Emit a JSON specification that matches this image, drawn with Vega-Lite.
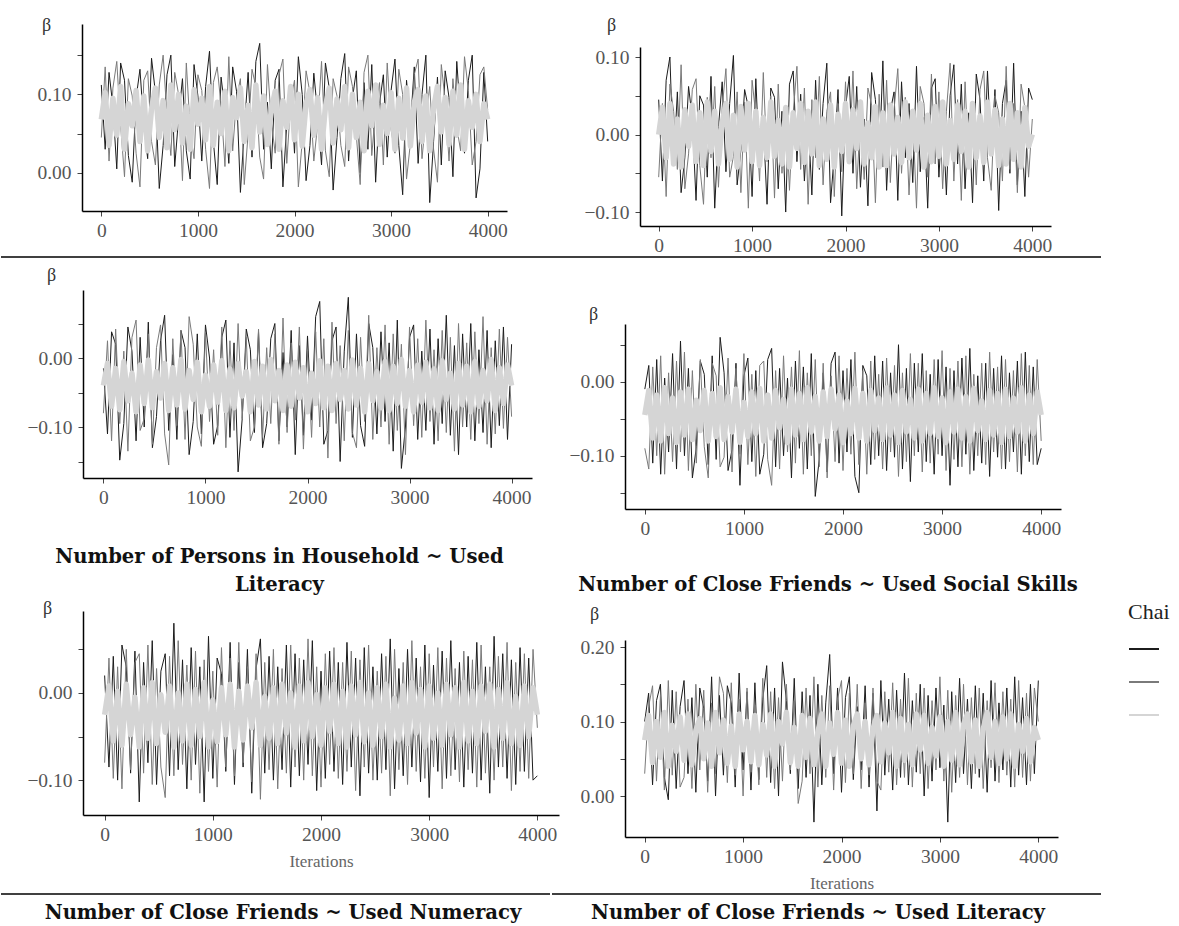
{
"$schema":"https://vega.github.io/schema/vega-lite/v6.json",
"background":"white",
"padding":{"left":0,"top":13,"right":0,"bottom":0},
"data":{"values":[
{"i":0,"a1":0.112,"a2":0.045,"a3":0.068,"b1":0.045,"b2":-0.055,"b3":0,"c1":-0.015,"c2":-0.08,"c3":-0.04,"d1":-0.01,"d2":-0.09,"d3":-0.045,"e1":0.02,"e2":-0.08,"e3":-0.025,"f1":0.1,"f2":0.03,"f3":0.075},
{"i":40,"a1":0.03,"a2":0.135,"a3":0.102,"b1":-0.06,"b2":0.04,"b3":0.035,"c1":-0.11,"c2":0.025,"c3":-0.008,"d1":0.022,"d2":-0.118,"d3":-0.012,"e1":-0.085,"e2":0.04,"e3":0.008,"f1":0.138,"f2":0.12,"f3":0.108},
{"i":80,"a1":0.128,"a2":0.015,"a3":0.035,"b1":0.07,"b2":-0.08,"b3":-0.03,"c1":0.038,"c2":-0.12,"c3":-0.07,"d1":-0.11,"d2":0.02,"d3":-0.076,"e1":0.042,"e2":-0.098,"e3":-0.055,"f1":0.015,"f2":0.148,"f3":0.045},
{"i":120,"a1":0.085,"a2":0.108,"a3":0.095,"b1":0.1,"b2":0.065,"b3":0.04,"c1":0.02,"c2":0.042,"c3":-0.015,"d1":0.03,"d2":-0.1,"d3":-0.018,"e1":-0.1,"e2":0.03,"e3":0.002,"f1":0.128,"f2":0.02,"f3":0.1},
{"i":160,"a1":0.005,"a2":0.142,"a3":0.048,"b1":-0.04,"b2":0.03,"b3":-0.038,"c1":-0.148,"c2":-0.095,"c3":-0.075,"d1":-0.125,"d2":0.035,"d3":-0.08,"e1":0.055,"e2":-0.11,"e3":-0.06,"f1":0.15,"f2":0.135,"f3":0.052},
{"i":200,"a1":0.14,"a2":0.06,"a3":0.11,"b1":0.055,"b2":-0.045,"b3":0.02,"c1":-0.095,"c2":0.01,"c3":-0.005,"d1":0.005,"d2":-0.125,"d3":-0.008,"e1":0.03,"e2":0.05,"e3":0.01,"f1":0.025,"f2":0.008,"f3":0.112},
{"i":240,"a1":0.118,"a2":-0.005,"a3":0.03,"b1":-0.075,"b2":0.09,"b3":-0.042,"c1":0.045,"c2":-0.135,"c3":-0.062,"d1":-0.095,"d2":0.012,"d3":-0.07,"e1":-0.092,"e2":-0.088,"e3":-0.048,"f1":-0.005,"f2":0.155,"f3":0.04},
{"i":280,"a1":0.022,"a2":0.12,"a3":0.088,"b1":-0.03,"b2":-0.07,"b3":0.032,"c1":0.01,"c2":0.03,"c3":-0.022,"d1":0.038,"d2":-0.108,"d3":-0.022,"e1":0.048,"e2":0.035,"e3":-0.005,"f1":0.142,"f2":0.028,"f3":0.095},
{"i":320,"a1":-0.012,"a2":0.098,"a3":0.06,"b1":0.062,"b2":-0.025,"b3":-0.015,"c1":-0.12,"c2":0.055,"c3":-0.078,"d1":-0.118,"d2":0.028,"d3":-0.082,"e1":-0.125,"e2":0.045,"e3":-0.062,"f1":0.01,"f2":0.14,"f3":0.06},
{"i":360,"a1":0.095,"a2":0.025,"a3":0.105,"b1":0.02,"b2":0.058,"b3":0.038,"c1":0.03,"c2":-0.105,"c3":-0.01,"d1":0.055,"d2":-0.095,"d3":-0.014,"e1":0.035,"e2":-0.092,"e3":0.006,"f1":0.12,"f2":0.012,"f3":0.106},
{"i":400,"a1":0.132,"a2":-0.018,"a3":0.04,"b1":-0.085,"b2":0.072,"b3":-0.035,"c1":-0.1,"c2":-0.088,"c3":-0.066,"d1":-0.1,"d2":0.04,"d3":-0.072,"e1":-0.08,"e2":0.055,"e3":-0.052,"f1":0.155,"f2":0.025,"f3":0.048},
{"i":440,"a1":0.06,"a2":0.118,"a3":0.098,"b1":0.05,"b2":-0.04,"b3":0.028,"c1":0.052,"c2":0.035,"c3":-0.003,"d1":0.018,"d2":-0.12,"d3":-0.01,"e1":0.06,"e2":-0.105,"e3":0.012,"f1":0.03,"f2":0.13,"f3":0.11},
{"i":480,"a1":0.018,"a2":0.13,"a3":0.028,"b1":0.038,"b2":-0.09,"b3":-0.04,"c1":-0.13,"c2":-0.125,"c3":-0.072,"d1":-0.13,"d2":0.015,"d3":-0.078,"e1":-0.105,"e2":0.028,"e3":-0.058,"f1":0.132,"f2":0.01,"f3":0.042},
{"i":520,"a1":0.146,"a2":0.04,"a3":0.082,"b1":-0.055,"b2":0.048,"b3":0.042,"c1":-0.085,"c2":0.015,"c3":-0.02,"d1":-0.088,"d2":-0.11,"d3":-0.025,"e1":0.025,"e2":-0.085,"e3":-0.002,"f1":0.005,"f2":0.15,"f3":0.088},
{"i":560,"a1":0.102,"a2":0.01,"a3":0.108,"b1":0.075,"b2":-0.03,"b3":-0.022,"c1":0.025,"c2":0.048,"c3":-0.058,"d1":0.028,"d2":0.03,"d3":-0.066,"e1":0.045,"e2":-0.12,"e3":-0.045,"f1":0.145,"f2":0.035,"f3":0.104},
{"i":600,"a1":-0.02,"a2":0.112,"a3":0.045,"b1":-0.095,"b2":0.062,"b3":0.03,"c1":0.062,"c2":-0.11,"c3":-0.008,"d1":0.01,"d2":-0.088,"d3":-0.012,"e1":-0.095,"e2":0.042,"e3":0.008,"f1":0.118,"f2":0.142,"f3":0.05},
{"i":640,"a1":0.035,"a2":0.15,"a3":0.092,"b1":0.01,"b2":-0.068,"b3":-0.038,"c1":-0.105,"c2":-0.155,"c3":-0.076,"d1":-0.112,"d2":-0.13,"d3":-0.08,"e1":0.08,"e2":-0.095,"e3":-0.062,"f1":0.02,"f2":0.005,"f3":0.098},
{"i":680,"a1":0.125,"a2":0.072,"a3":0.032,"b1":0.068,"b2":0.035,"b3":0.015,"c1":0.005,"c2":0.028,"c3":-0.014,"d1":0.035,"d2":0.025,"d3":-0.016,"e1":-0.088,"e2":0.06,"e3":0,"f1":0.16,"f2":0.125,"f3":0.04},
{"i":720,"a1":0.15,"a2":0.022,"a3":0.112,"b1":-0.048,"b2":0.085,"b3":0.04,"c1":-0.118,"c2":-0.098,"c3":-0.068,"d1":-0.105,"d2":0.008,"d3":-0.074,"e1":0.038,"e2":-0.082,"e3":-0.055,"f1":0,"f2":0.03,"f3":0.112},
{"i":760,"a1":0.008,"a2":0.128,"a3":0.055,"b1":0.04,"b2":-0.055,"b3":-0.032,"c1":0.04,"c2":0.04,"c3":-0.002,"d1":0.06,"d2":-0.115,"d3":-0.008,"e1":-0.11,"e2":0.032,"e3":0.01,"f1":0.135,"f2":0.16,"f3":0.058},
{"i":800,"a1":0.07,"a2":0.1,"a3":0.1,"b1":0.102,"b2":-0.028,"b3":0.025,"c1":0.015,"c2":-0.118,"c3":-0.074,"d1":0.012,"d2":-0.102,"d3":-0.078,"e1":0.052,"e2":-0.1,"e3":-0.06,"f1":0.028,"f2":0.138,"f3":0.102},
{"i":840,"a1":0.12,"a2":-0.01,"a3":0.038,"b1":-0.065,"b2":0.055,"b3":-0.042,"c1":-0.14,"c2":0.06,"c3":-0.018,"d1":-0.12,"d2":0.032,"d3":-0.02,"e1":-0.082,"e2":0.048,"e3":0.004,"f1":0.148,"f2":0.018,"f3":0.044},
{"i":880,"a1":0.028,"a2":0.14,"a3":0.085,"b1":-0.02,"b2":-0.075,"b3":0.036,"c1":-0.092,"c2":0.02,"c3":-0.06,"d1":-0.092,"d2":-0.122,"d3":-0.068,"e1":0.03,"e2":-0.115,"e3":-0.05,"f1":0.125,"f2":0.152,"f3":0.094},
{"i":920,"a1":-0.008,"a2":0.055,"a3":0.03,"b1":0.058,"b2":0.042,"b3":-0.02,"c1":0.035,"c2":-0.1,"c3":-0.006,"d1":0.025,"d2":0.018,"d3":-0.01,"e1":-0.125,"e2":0.038,"e3":0.012,"f1":0.012,"f2":0.028,"f3":0.04},
{"i":960,"a1":0.138,"a2":0.018,"a3":0.106,"b1":0.035,"b2":-0.095,"b3":0.04,"c1":-0.11,"c2":-0.128,"c3":-0.078,"d1":-0.14,"d2":-0.098,"d3":-0.082,"e1":0.065,"e2":-0.09,"e3":-0.062,"f1":0.165,"f2":0.13,"f3":0.11},
{"i":1000,"a1":0.098,"a2":0.125,"a3":0.062,"b1":-0.08,"b2":0.07,"b3":-0.035,"c1":0.048,"c2":0.038,"c3":-0.025,"d1":0.008,"d2":0.038,"d3":-0.028,"e1":-0.098,"e2":0.025,"e3":-0.008,"f1":0.035,"f2":0,"f3":0.062},
{"i":1040,"a1":0.015,"a2":0.105,"a3":0.095,"b1":0.072,"b2":0.025,"b3":0.03,"c1":0,"c2":-0.092,"c3":-0.07,"d1":0.032,"d2":-0.112,"d3":-0.074,"e1":0.04,"e2":-0.108,"e3":-0.056,"f1":0.14,"f2":0.145,"f3":0.1},
{"i":1080,"a1":0.11,"a2":0.03,"a3":0.042,"b1":-0.042,"b2":-0.06,"b3":-0.04,"c1":-0.125,"c2":0.012,"c3":-0.01,"d1":-0.108,"d2":0.01,"d3":-0.014,"e1":0.022,"e2":0.052,"e3":0.006,"f1":0.008,"f2":0.032,"f3":0.046},
{"i":1120,"a1":0.155,"a2":-0.02,"a3":0.11,"b1":0.015,"b2":0.08,"b3":0.022,"c1":-0.098,"c2":-0.112,"c3":-0.064,"d1":0.015,"d2":-0.128,"d3":-0.07,"e1":-0.09,"e2":-0.085,"e3":-0.048,"f1":0.152,"f2":0.122,"f3":0.108},
{"i":1160,"a1":0.04,"a2":0.115,"a3":0.035,"b1":-0.09,"b2":-0.035,"b3":-0.03,"c1":0.03,"c2":0.045,"c3":-0.004,"d1":-0.125,"d2":0.022,"d3":-0.009,"e1":0.058,"e2":0.04,"e3":0.01,"f1":0.022,"f2":0.015,"f3":0.042},
{"i":1200,"a1":-0.015,"a2":0.135,"a3":0.09,"b1":0.06,"b2":0.05,"b3":0.042,"c1":0.055,"c2":-0.13,"c3":-0.076,"d1":-0.098,"d2":0.028,"d3":-0.08,"e1":-0.105,"e2":-0.095,"e3":-0.062,"f1":0.13,"f2":0.158,"f3":0.096},
{"i":1240,"a1":0.122,"a2":0.085,"a3":0.05,"b1":0.048,"b2":-0.082,"b3":-0.028,"c1":-0.115,"c2":0.025,"c3":-0.016,"d1":0.03,"d2":-0.105,"d3":-0.018,"e1":0.035,"e2":0.058,"e3":0.002,"f1":0.175,"f2":0.025,"f3":0.055},
{"i":1280,"a1":0.08,"a2":0.008,"a3":0.104,"b1":-0.07,"b2":0.065,"b3":0.018,"c1":0.022,"c2":-0.105,"c3":-0.072,"d1":0.045,"d2":-0.14,"d3":-0.076,"e1":-0.085,"e2":-0.08,"e3":-0.054,"f1":0.018,"f2":0.14,"f3":0.11},
{"i":1320,"a1":0.012,"a2":0.148,"a3":0.028,"b1":0.03,"b2":-0.05,"b3":-0.038,"c1":-0.165,"c2":0.05,"c3":-0.008,"d1":-0.115,"d2":0.015,"d3":-0.012,"e1":0.05,"e2":0.03,"e3":0.008,"f1":0.145,"f2":0.01,"f3":0.04},
{"i":1360,"a1":0.135,"a2":0.028,"a3":0.096,"b1":-0.1,"b2":0.038,"b3":0.035,"c1":-0.088,"c2":-0.088,"c3":-0.055,"d1":0.018,"d2":-0.118,"d3":-0.062,"e1":-0.115,"e2":-0.102,"e3":-0.04,"f1":0,"f2":0.132,"f3":0.1},
{"i":1400,"a1":0.104,"a2":0.095,"a3":0.07,"b1":0.065,"b2":-0.072,"b3":-0.042,"c1":0.042,"c2":0.03,"c3":-0.02,"d1":-0.1,"d2":0.035,"d3":-0.024,"e1":0.028,"e2":0.045,"e3":0.012,"f1":0.18,"f2":0.02,"f3":0.07},
{"i":1440,"a1":-0.025,"a2":0.12,"a3":0.108,"b1":0.082,"b2":0.028,"b3":0.028,"c1":0.012,"c2":-0.12,"c3":-0.078,"d1":0.005,"d2":-0.095,"d3":-0.082,"e1":0.062,"e2":-0.122,"e3":-0.06,"f1":0.128,"f2":0.15,"f3":0.112},
{"i":1480,"a1":0.055,"a2":-0.015,"a3":0.04,"b1":-0.035,"b2":0.088,"b3":-0.018,"c1":-0.108,"c2":-0.1,"c3":-0.005,"d1":-0.13,"d2":0.02,"d3":-0.01,"e1":-0.092,"e2":0.035,"e3":-0.004,"f1":0.03,"f2":0.035,"f3":0.045},
{"i":1520,"a1":0.128,"a2":0.05,"a3":0.086,"b1":0.052,"b2":-0.045,"b3":0.04,"c1":0.038,"c2":0.042,"c3":-0.068,"d1":0.028,"d2":-0.11,"d3":-0.072,"e1":0.042,"e2":-0.088,"e3":-0.052,"f1":0.158,"f2":0.128,"f3":0.092},
{"i":1560,"a1":0.02,"a2":0.132,"a3":0.032,"b1":-0.06,"b2":0.06,"b3":-0.036,"c1":-0.13,"c2":-0.115,"c3":-0.012,"d1":-0.09,"d2":0.042,"d3":-0.016,"e1":-0.1,"e2":0.05,"e3":0.006,"f1":0.01,"f2":-0.01,"f3":0.04},
{"i":1600,"a1":0.142,"a2":0.11,"a3":0.112,"b1":0.025,"b2":-0.09,"b3":0.03,"c1":-0.095,"c2":0.015,"c3":-0.074,"d1":0.02,"d2":-0.125,"d3":-0.078,"e1":0.03,"e2":-0.11,"e3":-0.058,"f1":0.14,"f2":0.02,"f3":0.108},
{"i":1640,"a1":0.165,"a2":0.02,"a3":0.052,"b1":-0.078,"b2":0.045,"b3":-0.025,"c1":0.028,"c2":-0.095,"c3":-0.002,"d1":-0.118,"d2":0.012,"d3":-0.008,"e1":-0.088,"e2":0.028,"e3":0.01,"f1":0.025,"f2":0.145,"f3":0.052},
{"i":1680,"a1":0.03,"a2":-0.008,"a3":0.098,"b1":0.07,"b2":-0.03,"b3":0.042,"c1":0.05,"c2":0.035,"c3":-0.062,"d1":0.038,"d2":-0.1,"d3":-0.068,"e1":0.055,"e2":-0.092,"e3":-0.046,"f1":0.135,"f2":0.03,"f3":0.104},
{"i":1720,"a1":0.09,"a2":0.138,"a3":0.036,"b1":-0.045,"b2":0.075,"b3":-0.04,"c1":-0.12,"c2":-0.125,"c3":-0.018,"d1":-0.155,"d2":0.03,"d3":-0.02,"e1":-0.108,"e2":0.055,"e3":0,"f1":-0.035,"f2":0.16,"f3":0.042},
{"i":1760,"a1":0.005,"a2":0.065,"a3":0.08,"b1":0.04,"b2":-0.065,"b3":0.02,"c1":0.008,"c2":0.058,"c3":-0.076,"d1":-0.105,"d2":-0.115,"d3":-0.08,"e1":0.045,"e2":-0.085,"e3":-0.062,"f1":0.15,"f2":0.012,"f3":0.086},
{"i":1800,"a1":0.118,"a2":0.025,"a3":0.104,"b1":0.092,"b2":0.03,"b3":-0.032,"c1":-0.1,"c2":-0.108,"c3":-0.01,"d1":0.012,"d2":0.025,"d3":-0.014,"e1":-0.095,"e2":0.04,"e3":0.008,"f1":0.015,"f2":0.135,"f3":0.11},
{"i":1840,"a1":0.132,"a2":0.125,"a3":0.03,"b1":-0.088,"b2":0.055,"b3":0.038,"c1":0.04,"c2":0.022,"c3":-0.07,"d1":-0.122,"d2":-0.13,"d3":-0.074,"e1":0.038,"e2":-0.1,"e3":-0.055,"f1":0.125,"f2":0.025,"f3":0.04},
{"i":1880,"a1":-0.018,"a2":0.145,"a3":0.092,"b1":-0.025,"b2":-0.08,"b3":-0.042,"c1":-0.14,"c2":-0.09,"c3":-0.006,"d1":0.025,"d2":0.008,"d3":-0.01,"e1":-0.082,"e2":0.062,"e3":0.012,"f1":0.19,"f2":0.148,"f3":0.098},
{"i":1920,"a1":0.062,"a2":0.012,"a3":0.058,"b1":0.058,"b2":0.04,"b3":0.026,"c1":0.018,"c2":0.045,"c3":-0.058,"d1":0.04,"d2":-0.108,"d3":-0.064,"e1":0.06,"e2":-0.095,"e3":-0.05,"f1":0.03,"f2":0.008,"f3":0.056},
{"i":1960,"a1":0.112,"a2":0.09,"a3":0.11,"b1":-0.105,"b2":-0.048,"b3":-0.022,"c1":-0.112,"c2":-0.132,"c3":-0.014,"d1":-0.11,"d2":0.035,"d3":-0.018,"e1":-0.112,"e2":0.03,"e3":-0.002,"f1":0.145,"f2":0.13,"f3":0.112},
{"i":2000,"a1":0.025,"a2":0.118,"a3":0.042,"b1":0.035,"b2":0.068,"b3":0.04,"c1":0.032,"c2":0.01,"c3":-0.078,"d1":0.015,"d2":-0.12,"d3":-0.082,"e1":0.025,"e2":-0.108,"e3":-0.06,"f1":0.005,"f2":0.155,"f3":0.044},
{"i":2040,"a1":0.148,"a2":-0.018,"a3":0.1,"b1":0.075,"b2":-0.035,"b3":-0.035,"c1":-0.09,"c2":-0.115,"c3":-0.022,"d1":-0.095,"d2":0.018,"d3":-0.026,"e1":-0.098,"e2":0.045,"e3":0.006,"f1":0.132,"f2":0.018,"f3":0.102},
{"i":2080,"a1":0.1,"a2":0.04,"a3":0.034,"b1":-0.05,"b2":0.082,"b3":0.032,"c1":0.06,"c2":0.038,"c3":-0.066,"d1":0.03,"d2":-0.098,"d3":-0.07,"e1":0.048,"e2":-0.082,"e3":-0.044,"f1":0.16,"f2":0.138,"f3":0.04},
{"i":2120,"a1":-0.01,"a2":0.13,"a3":0.088,"b1":0.062,"b2":-0.07,"b3":-0.018,"c1":0.082,"c2":-0.1,"c3":-0.004,"d1":-0.128,"d2":0.04,"d3":-0.009,"e1":-0.09,"e2":0.052,"e3":0.01,"f1":0.022,"f2":0.03,"f3":0.094},
{"i":2160,"a1":0.035,"a2":0.102,"a3":0.106,"b1":-0.068,"b2":0.025,"b3":0.042,"c1":-0.125,"c2":0.028,"c3":-0.072,"d1":-0.15,"d2":-0.112,"d3":-0.076,"e1":0.035,"e2":-0.098,"e3":-0.058,"f1":0.12,"f2":0.15,"f3":0.11},
{"i":2200,"a1":0.127,"a2":0.015,"a3":0.048,"b1":0.02,"b2":-0.058,"b3":-0.038,"c1":-0.105,"c2":-0.145,"c3":-0.012,"d1":0.022,"d2":0.015,"d3":-0.016,"e1":-0.105,"e2":0.035,"e3":0.002,"f1":0.035,"f2":0.01,"f3":0.05},
{"i":2240,"a1":0.075,"a2":0.062,"a3":0.096,"b1":-0.092,"b2":0.06,"b3":0.015,"c1":0.025,"c2":0.052,"c3":-0.076,"d1":0.008,"d2":-0.125,"d3":-0.08,"e1":0.058,"e2":-0.09,"e3":-0.062,"f1":0.148,"f2":0.125,"f3":0.1},
{"i":2280,"a1":0.01,"a2":0.142,"a3":0.03,"b1":0.08,"b2":0.038,"b3":-0.03,"c1":0.045,"c2":-0.095,"c3":-0.008,"d1":-0.112,"d2":0.028,"d3":-0.012,"e1":-0.085,"e2":0.048,"e3":0.008,"f1":0.012,"f2":0.028,"f3":0.042},
{"i":2320,"a1":0.14,"a2":0.028,"a3":0.084,"b1":0.045,"b2":-0.088,"b3":0.036,"c1":-0.15,"c2":0.018,"c3":-0.06,"d1":0.035,"d2":-0.105,"d3":-0.066,"e1":0.04,"e2":-0.112,"e3":-0.048,"f1":0.138,"f2":0.145,"f3":0.09},
{"i":2360,"a1":0.108,"a2":-0.005,"a3":0.108,"b1":-0.04,"b2":0.052,"b3":-0.042,"c1":0.01,"c2":-0.12,"c3":-0.018,"d1":-0.1,"d2":0.01,"d3":-0.022,"e1":-0.118,"e2":0.038,"e3":0.012,"f1":-0.02,"f2":0.02,"f3":0.108},
{"i":2400,"a1":-0.022,"a2":0.12,"a3":0.038,"b1":0.095,"b2":-0.042,"b3":0.028,"c1":0.088,"c2":0.04,"c3":-0.074,"d1":0.028,"d2":-0.118,"d3":-0.078,"e1":0.052,"e2":-0.085,"e3":-0.056,"f1":0.155,"f2":0.008,"f3":0.046},
{"i":2440,"a1":0.045,"a2":0.098,"a3":0.094,"b1":-0.072,"b2":0.07,"b3":-0.04,"c1":-0.115,"c2":-0.108,"c3":-0.003,"d1":-0.12,"d2":0.032,"d3":-0.008,"e1":-0.092,"e2":0.055,"e3":0,"f1":0.028,"f2":0.14,"f3":0.098},
{"i":2480,"a1":0.12,"a2":0.035,"a3":0.055,"b1":0.03,"b2":-0.062,"b3":0.038,"c1":0.035,"c2":-0.13,"c3":-0.068,"d1":0.012,"d2":-0.095,"d3":-0.072,"e1":0.03,"e2":-0.1,"e3":-0.06,"f1":0.13,"f2":0.032,"f3":0.058},
{"i":2520,"a1":0.152,"a2":0.008,"a3":0.11,"b1":0.055,"b2":0.032,"b3":-0.025,"c1":-0.098,"c2":0.03,"c3":-0.015,"d1":-0.102,"d2":0.022,"d3":-0.018,"e1":-0.1,"e2":0.025,"e3":0.006,"f1":0.008,"f2":0.152,"f3":0.112},
{"i":2560,"a1":0.015,"a2":0.135,"a3":0.032,"b1":-0.085,"b2":0.085,"b3":0.022,"c1":-0.128,"c2":-0.092,"c3":-0.078,"d1":0.05,"d2":-0.128,"d3":-0.082,"e1":0.045,"e2":-0.092,"e3":-0.05,"f1":0.142,"f2":0.015,"f3":0.04},
{"i":2600,"a1":0.095,"a2":0.11,"a3":0.1,"b1":0.068,"b2":-0.05,"b3":-0.036,"c1":0.05,"c2":0.062,"c3":-0.008,"d1":-0.118,"d2":0.012,"d3":-0.012,"e1":-0.088,"e2":0.042,"e3":0.01,"f1":0.025,"f2":0.13,"f3":0.104},
{"i":2640,"a1":0.13,"a2":0.048,"a3":0.045,"b1":-0.03,"b2":0.048,"b3":0.042,"c1":0.015,"c2":-0.118,"c3":-0.062,"d1":0.018,"d2":-0.108,"d3":-0.068,"e1":0.062,"e2":-0.118,"e3":-0.062,"f1":0.165,"f2":0.025,"f3":0.048},
{"i":2680,"a1":0,"a2":-0.015,"a3":0.09,"b1":0.04,"b2":-0.078,"b3":-0.03,"c1":-0.11,"c2":0.015,"c3":-0.02,"d1":-0.135,"d2":0.038,"d3":-0.024,"e1":-0.11,"e2":0.05,"e3":-0.006,"f1":0.015,"f2":0.158,"f3":0.096},
{"i":2720,"a1":0.115,"a2":0.128,"a3":0.028,"b1":-0.062,"b2":0.028,"b3":0.03,"c1":0.038,"c2":-0.1,"c3":-0.072,"d1":0.025,"d2":-0.1,"d3":-0.076,"e1":0.028,"e2":-0.088,"e3":-0.054,"f1":0.128,"f2":0.012,"f3":0.042},
{"i":2760,"a1":0.03,"a2":0.15,"a3":0.104,"b1":0.088,"b2":-0.095,"b3":-0.02,"c1":-0.092,"c2":0.048,"c3":-0.005,"d1":-0.095,"d2":0.025,"d3":-0.01,"e1":-0.095,"e2":0.035,"e3":0.008,"f1":0.032,"f2":0.138,"f3":0.11},
{"i":2800,"a1":0.138,"a2":0.022,"a3":0.06,"b1":-0.048,"b2":0.062,"b3":0.04,"c1":0.022,"c2":-0.125,"c3":-0.076,"d1":0.038,"d2":-0.122,"d3":-0.08,"e1":0.05,"e2":-0.105,"e3":-0.058,"f1":0.15,"f2":0.03,"f3":0.062},
{"i":2840,"a1":-0.012,"a2":0.082,"a3":0.112,"b1":0.022,"b2":0.04,"b3":-0.042,"c1":-0.135,"c2":0.035,"c3":-0.012,"d1":-0.108,"d2":0.015,"d3":-0.016,"e1":-0.085,"e2":0.06,"e3":0.012,"f1":0,"f2":0.145,"f3":0.108},
{"i":2880,"a1":0.088,"a2":0.115,"a3":0.036,"b1":-0.095,"b2":-0.055,"b3":0.025,"c1":0.055,"c2":-0.105,"c3":-0.066,"d1":0.01,"d2":-0.11,"d3":-0.07,"e1":0.04,"e2":-0.09,"e3":-0.046,"f1":0.135,"f2":0.01,"f3":0.044},
{"i":2920,"a1":0.125,"a2":0.01,"a3":0.086,"b1":0.06,"b2":0.078,"b3":-0.035,"c1":-0.16,"c2":0.02,"c3":-0.002,"d1":-0.125,"d2":0.03,"d3":-0.008,"e1":-0.102,"e2":0.03,"e3":0.004,"f1":0.02,"f2":0.128,"f3":0.092},
{"i":2960,"a1":0.02,"a2":0.14,"a3":0.05,"b1":0.072,"b2":-0.038,"b3":0.036,"c1":-0.1,"c2":-0.14,"c3":-0.07,"d1":0.03,"d2":-0.098,"d3":-0.074,"e1":0.055,"e2":-0.098,"e3":-0.062,"f1":0.145,"f2":0.035,"f3":0.054},
{"i":3000,"a1":0.105,"a2":0.055,"a3":0.102,"b1":-0.055,"b2":0.055,"b3":-0.028,"c1":0.03,"c2":0.045,"c3":-0.018,"d1":-0.1,"d2":0.042,"d3":-0.022,"e1":-0.12,"e2":0.045,"e3":0.008,"f1":0.038,"f2":0.16,"f3":0.106},
{"i":3040,"a1":0.145,"a2":0.025,"a3":0.03,"b1":0.035,"b2":-0.07,"b3":0.042,"c1":0.048,"c2":-0.098,"c3":-0.078,"d1":0.02,"d2":-0.12,"d3":-0.082,"e1":0.032,"e2":-0.085,"e3":-0.052,"f1":0.122,"f2":0.02,"f3":0.04},
{"i":3080,"a1":0.035,"a2":0.132,"a3":0.095,"b1":-0.078,"b2":0.03,"b3":-0.038,"c1":-0.118,"c2":0.028,"c3":-0.01,"d1":-0.14,"d2":0.018,"d3":-0.014,"e1":-0.09,"e2":0.052,"e3":0,"f1":-0.035,"f2":0.142,"f3":0.1},
{"i":3120,"a1":-0.028,"a2":0.1,"a3":0.044,"b1":0.05,"b2":0.092,"b3":0.018,"c1":0.01,"c2":-0.115,"c3":-0.064,"d1":0.015,"d2":-0.105,"d3":-0.068,"e1":0.048,"e2":-0.11,"e3":-0.06,"f1":0.14,"f2":0.005,"f3":0.048},
{"i":3160,"a1":0.118,"a2":-0.008,"a3":0.108,"b1":0.09,"b2":-0.06,"b3":-0.032,"c1":-0.105,"c2":0.055,"c3":-0.006,"d1":-0.115,"d2":0.028,"d3":-0.01,"e1":-0.098,"e2":0.04,"e3":0.01,"f1":0.018,"f2":0.135,"f3":0.112},
{"i":3200,"a1":0.06,"a2":0.038,"a3":0.034,"b1":-0.038,"b2":0.045,"b3":0.038,"c1":0.042,"c2":-0.092,"c3":-0.072,"d1":0.032,"d2":-0.115,"d3":-0.076,"e1":0.06,"e2":-0.095,"e3":-0.048,"f1":0.158,"f2":0.025,"f3":0.042},
{"i":3240,"a1":0.135,"a2":0.125,"a3":0.09,"b1":0.065,"b2":-0.085,"b3":-0.022,"c1":-0.125,"c2":0.012,"c3":-0.016,"d1":-0.098,"d2":0.035,"d3":-0.02,"e1":-0.088,"e2":0.028,"e3":0.006,"f1":0.03,"f2":0.15,"f3":0.096},
{"i":3280,"a1":0.012,"a2":0.145,"a3":0.106,"b1":-0.07,"b2":0.068,"b3":0.03,"c1":0.028,"c2":-0.12,"c3":-0.076,"d1":0.045,"d2":-0.125,"d3":-0.08,"e1":0.035,"e2":-0.102,"e3":-0.062,"f1":0.13,"f2":0.015,"f3":0.11},
{"i":3320,"a1":0.1,"a2":0.018,"a3":0.04,"b1":0.028,"b2":-0.042,"b3":-0.042,"c1":-0.095,"c2":0.04,"c3":-0.004,"d1":-0.12,"d2":0.01,"d3":-0.009,"e1":-0.108,"e2":0.048,"e3":0.012,"f1":0.01,"f2":0.132,"f3":0.046},
{"i":3360,"a1":0.15,"a2":0.07,"a3":0.098,"b1":-0.088,"b2":0.035,"b3":0.04,"c1":0.062,"c2":-0.108,"c3":-0.06,"d1":0.008,"d2":-0.1,"d3":-0.066,"e1":0.042,"e2":-0.088,"e3":-0.055,"f1":0.148,"f2":0.03,"f3":0.102},
{"i":3400,"a1":-0.038,"a2":0.11,"a3":0.028,"b1":0.078,"b2":-0.065,"b3":-0.03,"c1":-0.112,"c2":0.03,"c3":-0.022,"d1":-0.11,"d2":0.025,"d3":-0.026,"e1":-0.092,"e2":0.038,"e3":0.002,"f1":0.025,"f2":0.145,"f3":0.04},
{"i":3440,"a1":0.04,"a2":0.03,"a3":0.082,"b1":0.045,"b2":0.058,"b3":0.024,"c1":0.018,"c2":-0.135,"c3":-0.074,"d1":0.025,"d2":-0.112,"d3":-0.078,"e1":0.058,"e2":-0.108,"e3":-0.058,"f1":0.138,"f2":0.01,"f3":0.09},
{"i":3480,"a1":0.122,"a2":-0.012,"a3":0.11,"b1":-0.06,"b2":0.082,"b3":-0.036,"c1":-0.14,"c2":0.05,"c3":-0.008,"d1":-0.128,"d2":0.04,"d3":-0.012,"e1":-0.1,"e2":0.055,"e3":0.008,"f1":0.005,"f2":0.128,"f3":0.112},
{"i":3520,"a1":0.01,"a2":0.138,"a3":0.052,"b1":0.082,"b2":-0.03,"b3":0.042,"c1":0.035,"c2":-0.1,"c3":-0.068,"d1":0.018,"d2":-0.095,"d3":-0.072,"e1":0.03,"e2":-0.092,"e3":-0.044,"f1":0.155,"f2":0.038,"f3":0.052},
{"i":3560,"a1":0.13,"a2":0.092,"a3":0.096,"b1":-0.025,"b2":-0.072,"b3":-0.025,"c1":-0.1,"c2":0.022,"c3":-0.012,"d1":-0.102,"d2":0.02,"d3":-0.016,"e1":-0.115,"e2":0.03,"e3":0.01,"f1":0.02,"f2":0.152,"f3":0.1},
{"i":3600,"a1":0.096,"a2":0.015,"a3":0.036,"b1":0.058,"b2":0.05,"b3":0.032,"c1":0.05,"c2":-0.118,"c3":-0.078,"d1":0.035,"d2":-0.118,"d3":-0.082,"e1":0.065,"e2":-0.1,"e3":-0.062,"f1":0.125,"f2":0.018,"f3":0.044},
{"i":3640,"a1":-0.005,"a2":0.12,"a3":0.104,"b1":-0.098,"b2":0.028,"b3":-0.04,"c1":-0.12,"c2":0.038,"c3":-0.005,"d1":-0.118,"d2":0.03,"d3":-0.01,"e1":-0.085,"e2":0.042,"e3":0.004,"f1":0.035,"f2":0.14,"f3":0.106},
{"i":3680,"a1":0.142,"a2":0.058,"a3":0.048,"b1":0.04,"b2":-0.06,"b3":0.02,"c1":0.012,"c2":-0.095,"c3":-0.07,"d1":0.012,"d2":-0.108,"d3":-0.074,"e1":0.045,"e2":-0.085,"e3":-0.052,"f1":0.145,"f2":0.028,"f3":0.05},
{"i":3720,"a1":0.07,"a2":0.028,"a3":0.112,"b1":0.07,"b2":0.088,"b3":-0.038,"c1":-0.108,"c2":0.06,"c3":-0.018,"d1":-0.095,"d2":0.015,"d3":-0.022,"e1":-0.098,"e2":0.058,"e3":0.012,"f1":0.012,"f2":0.13,"f3":0.11},
{"i":3760,"a1":0.025,"a2":0.148,"a3":0.03,"b1":-0.05,"b2":-0.045,"b3":0.04,"c1":0.04,"c2":-0.125,"c3":-0.062,"d1":0.028,"d2":-0.122,"d3":-0.068,"e1":0.038,"e2":-0.112,"e3":-0.058,"f1":0.16,"f2":0.012,"f3":0.04},
{"i":3800,"a1":0.118,"a2":0.105,"a3":0.092,"b1":0.092,"b2":0.04,"b3":-0.032,"c1":-0.13,"c2":0.015,"c3":-0.002,"d1":-0.125,"d2":0.038,"d3":-0.008,"e1":-0.105,"e2":0.035,"e3":-0.004,"f1":0.028,"f2":0.155,"f3":0.096},
{"i":3840,"a1":0.15,"a2":0.01,"a3":0.058,"b1":-0.065,"b2":-0.075,"b3":0.028,"c1":0.025,"c2":-0.11,"c3":-0.076,"d1":0.04,"d2":-0.1,"d3":-0.08,"e1":0.052,"e2":-0.09,"e3":-0.06,"f1":0.132,"f2":0.025,"f3":0.06},
{"i":3880,"a1":-0.032,"a2":0.04,"a3":0.1,"b1":0.03,"b2":0.065,"b3":-0.042,"c1":-0.098,"c2":0.042,"c3":-0.014,"d1":-0.108,"d2":0.022,"d3":-0.018,"e1":-0.09,"e2":0.045,"e3":0.008,"f1":0.015,"f2":0.138,"f3":0.104},
{"i":3920,"a1":0.005,"a2":0.125,"a3":0.04,"b1":-0.08,"b2":0.035,"b3":0.035,"c1":0.045,"c2":-0.102,"c3":-0.066,"d1":0.02,"d2":-0.112,"d3":-0.07,"e1":0.04,"e2":-0.098,"e3":-0.05,"f1":0.15,"f2":0.02,"f3":0.046},
{"i":3960,"a1":0.128,"a2":0.135,"a3":0.088,"b1":0.06,"b2":-0.055,"b3":-0.015,"c1":-0.118,"c2":0.03,"c3":-0.01,"d1":-0.112,"d2":0.03,"d3":-0.014,"e1":-0.1,"e2":0.05,"e3":0.006,"f1":0.03,"f2":0.145,"f3":0.092},
{"i":4000,"a1":0.04,"a2":0.08,"a3":0.068,"b1":0.045,"b2":0.02,"b3":0,"c1":0.02,"c2":-0.085,"c3":-0.04,"d1":-0.09,"d2":-0.08,"d3":-0.045,"e1":-0.095,"e2":-0.04,"e3":-0.025,"f1":0.155,"f2":0.1,"f3":0.075}
]},
"spacing":1,
"vconcat":[
{"hconcat":[
 {"width":34,"height":1,"data":{"values":[]},"mark":"point","encoding":{},"view":{"stroke":"transparent"}},
 {"hconcat":[
  {"vconcat":[
   {"width":1,"height":1,"data":{"values":[]},"mark":"point","encoding":{},"view":{"stroke":"transparent"}},
   {"width":425,"height":187,
    "encoding":{"x":{"field":"i","type":"quantitative","scale":{"domain":[-200,4200],"nice":false,"zero":false},"axis":{"values":[0,1000,2000,3000,4000],"format":"d","title":null}}},
    "layer":[
     {"mark":{"type":"line","strokeWidth":1,"strokeJoin":"round"},"encoding":{"y":{"field":"a1","type":"quantitative","scale":{"domain":[-0.0487,0.1897],"nice":false,"zero":false},"axis":{"values":[0,0.05,0.1,0.15],"labelExpr":"abs(datum.value*10-round(datum.value*10))<0.001?format(datum.value,'.2f'):''","title":"β","titleX":-36,"titleY":1}},"color":{"datum":"1","title":"Chai","legend":{"labelExpr":"''"}}}},
     {"mark":{"type":"line","strokeWidth":1,"strokeJoin":"round"},"encoding":{"y":{"field":"a2","type":"quantitative","scale":{"domain":[-0.0487,0.1897],"nice":false,"zero":false},"axis":{"values":[0,0.05,0.1,0.15],"labelExpr":"abs(datum.value*10-round(datum.value*10))<0.001?format(datum.value,'.2f'):''","title":"β","titleX":-36,"titleY":1}},"color":{"datum":"2","title":"Chai"}}},
     {"mark":{"type":"line","strokeWidth":5.5,"strokeJoin":"round"},"encoding":{"y":{"field":"a3","type":"quantitative","scale":{"domain":[-0.0487,0.1897],"nice":false,"zero":false},"axis":{"values":[0,0.05,0.1,0.15],"labelExpr":"abs(datum.value*10-round(datum.value*10))<0.001?format(datum.value,'.2f'):''","title":"β","titleX":-36,"titleY":1}},"color":{"datum":"3","title":"Chai"}}}
    ]}
  ],"spacing":0},
  {"vconcat":[
   {"width":1,"height":1,"data":{"values":[]},"mark":"point","encoding":{},"view":{"stroke":"transparent"}},
   {"width":411,"height":179,
    "encoding":{"x":{"field":"i","type":"quantitative","scale":{"domain":[-200,4200],"nice":false,"zero":false},"axis":{"values":[0,1000,2000,3000,4000],"format":"d","title":null}}},
    "layer":[
     {"mark":{"type":"line","strokeWidth":1,"strokeJoin":"round"},"encoding":{"y":{"field":"b1","type":"quantitative","scale":{"domain":[-0.118,0.1129],"nice":false,"zero":false},"axis":{"values":[-0.1,-0.05,0,0.05,0.1],"labelExpr":"abs(datum.value*10-round(datum.value*10))<0.001?format(datum.value,'.2f'):''","title":"β","titleX":-29,"titleY":-22}},"color":{"datum":"1","title":"Chai"}}},
     {"mark":{"type":"line","strokeWidth":1,"strokeJoin":"round"},"encoding":{"y":{"field":"b2","type":"quantitative","scale":{"domain":[-0.118,0.1129],"nice":false,"zero":false},"axis":{"values":[-0.1,-0.05,0,0.05,0.1],"labelExpr":"abs(datum.value*10-round(datum.value*10))<0.001?format(datum.value,'.2f'):''","title":"β","titleX":-29,"titleY":-22}},"color":{"datum":"2","title":"Chai"}}},
     {"mark":{"type":"line","strokeWidth":5.5,"strokeJoin":"round"},"encoding":{"y":{"field":"b3","type":"quantitative","scale":{"domain":[-0.118,0.1129],"nice":false,"zero":false},"axis":{"values":[-0.1,-0.05,0,0.05,0.1],"labelExpr":"abs(datum.value*10-round(datum.value*10))<0.001?format(datum.value,'.2f'):''","title":"β","titleX":-29,"titleY":-22}},"color":{"datum":"3","title":"Chai"}}}
    ]}
  ],"spacing":0}
 ],"spacing":75}
],"spacing":0},
{"width":1100,"height":1,"data":{"values":[{"y":0}]},"mark":{"type":"rule","strokeWidth":1.5,"color":"#000"},"encoding":{"y":{"field":"y","type":"quantitative","axis":null,"scale":{"domain":[0,1]}}}},
{"hconcat":[
 {"width":24,"height":1,"data":{"values":[]},"mark":"point","encoding":{},"view":{"stroke":"transparent"}},
 {"hconcat":[
  {"vconcat":[
   {"width":1,"height":1,"data":{"values":[]},"mark":"point","encoding":{},"view":{"stroke":"transparent"}},
   {"width":449,"height":188,
    "title":{"text":["Number of Persons in Household ~ Used","Literacy"],"offset":41},
    "encoding":{"x":{"field":"i","type":"quantitative","scale":{"domain":[-200,4200],"nice":false,"zero":false},"axis":{"values":[0,1000,2000,3000,4000],"format":"d","title":null}}},
    "layer":[
     {"mark":{"type":"line","strokeWidth":1,"strokeJoin":"round"},"encoding":{"y":{"field":"c1","type":"quantitative","scale":{"domain":[-0.1739,0.0986],"nice":false,"zero":false},"axis":{"values":[-0.15,-0.1,-0.05,0,0.05],"labelExpr":"abs(datum.value*10-round(datum.value*10))<0.001?format(datum.value,'.2f'):''","title":"β","titleX":-32,"titleY":-15}},"color":{"datum":"1","title":"Chai"}}},
     {"mark":{"type":"line","strokeWidth":1,"strokeJoin":"round"},"encoding":{"y":{"field":"c2","type":"quantitative","scale":{"domain":[-0.1739,0.0986],"nice":false,"zero":false},"axis":{"values":[-0.15,-0.1,-0.05,0,0.05],"labelExpr":"abs(datum.value*10-round(datum.value*10))<0.001?format(datum.value,'.2f'):''","title":"β","titleX":-32,"titleY":-15}},"color":{"datum":"2","title":"Chai"}}},
     {"mark":{"type":"line","strokeWidth":5.5,"strokeJoin":"round"},"encoding":{"y":{"field":"c3","type":"quantitative","scale":{"domain":[-0.1739,0.0986],"nice":false,"zero":false},"axis":{"values":[-0.15,-0.1,-0.05,0,0.05],"labelExpr":"abs(datum.value*10-round(datum.value*10))<0.001?format(datum.value,'.2f'):''","title":"β","titleX":-32,"titleY":-15}},"color":{"datum":"3","title":"Chai"}}}
    ]},
   {"width":476,"height":204,
    "encoding":{"x":{"field":"i","type":"quantitative","scale":{"domain":[-200,4200],"nice":false,"zero":false},"axis":{"values":[0,1000,2000,3000,4000],"format":"d","title":"Iterations"}}},
    "layer":[
     {"mark":{"type":"line","strokeWidth":1,"strokeJoin":"round"},"encoding":{"y":{"field":"e1","type":"quantitative","scale":{"domain":[-0.14,0.094],"nice":false,"zero":false},"axis":{"values":[-0.1,-0.05,0,0.05],"labelExpr":"abs(datum.value*10-round(datum.value*10))<0.001?format(datum.value,'.2f'):''","title":"β","titleX":-36,"titleY":-3}},"color":{"datum":"1","title":"Chai"}}},
     {"mark":{"type":"line","strokeWidth":1,"strokeJoin":"round"},"encoding":{"y":{"field":"e2","type":"quantitative","scale":{"domain":[-0.14,0.094],"nice":false,"zero":false},"axis":{"values":[-0.1,-0.05,0,0.05],"labelExpr":"abs(datum.value*10-round(datum.value*10))<0.001?format(datum.value,'.2f'):''","title":"β","titleX":-36,"titleY":-3}},"color":{"datum":"2","title":"Chai"}}},
     {"mark":{"type":"line","strokeWidth":5.5,"strokeJoin":"round"},"encoding":{"y":{"field":"e3","type":"quantitative","scale":{"domain":[-0.14,0.094],"nice":false,"zero":false},"axis":{"values":[-0.1,-0.05,0,0.05],"labelExpr":"abs(datum.value*10-round(datum.value*10))<0.001?format(datum.value,'.2f'):''","title":"β","titleX":-36,"titleY":-3}},"color":{"datum":"3","title":"Chai"}}}
    ]}
  ],"spacing":4},
  {"vconcat":[
   {"width":1,"height":34,"data":{"values":[]},"mark":"point","encoding":{},"view":{"stroke":"transparent"}},
   {"width":436,"height":185,
    "title":{"text":"Number of Close Friends ~ Used Social Skills","offset":38,"dx":13},
    "encoding":{"x":{"field":"i","type":"quantitative","scale":{"domain":[-200,4200],"nice":false,"zero":false},"axis":{"values":[0,1000,2000,3000,4000],"format":"d","title":null}}},
    "layer":[
     {"mark":{"type":"line","strokeWidth":1,"strokeJoin":"round"},"encoding":{"y":{"field":"d1","type":"quantitative","scale":{"domain":[-0.172,0.078],"nice":false,"zero":false},"axis":{"values":[-0.15,-0.1,-0.05,0,0.05],"labelExpr":"abs(datum.value*10-round(datum.value*10))<0.001?format(datum.value,'.2f'):''","title":"β","titleX":-32,"titleY":-10}},"color":{"datum":"1","title":"Chai"}}},
     {"mark":{"type":"line","strokeWidth":1,"strokeJoin":"round"},"encoding":{"y":{"field":"d2","type":"quantitative","scale":{"domain":[-0.172,0.078],"nice":false,"zero":false},"axis":{"values":[-0.15,-0.1,-0.05,0,0.05],"labelExpr":"abs(datum.value*10-round(datum.value*10))<0.001?format(datum.value,'.2f'):''","title":"β","titleX":-32,"titleY":-10}},"color":{"datum":"2","title":"Chai"}}},
     {"mark":{"type":"line","strokeWidth":5.5,"strokeJoin":"round"},"encoding":{"y":{"field":"d3","type":"quantitative","scale":{"domain":[-0.172,0.078],"nice":false,"zero":false},"axis":{"values":[-0.15,-0.1,-0.05,0,0.05],"labelExpr":"abs(datum.value*10-round(datum.value*10))<0.001?format(datum.value,'.2f'):''","title":"β","titleX":-32,"titleY":-10}},"color":{"datum":"3","title":"Chai"}}}
    ]},
   {"width":433,"height":197,
    "encoding":{"x":{"field":"i","type":"quantitative","scale":{"domain":[-200,4200],"nice":false,"zero":false},"axis":{"values":[0,1000,2000,3000,4000],"format":"d","title":"Iterations"}}},
    "layer":[
     {"mark":{"type":"line","strokeWidth":1,"strokeJoin":"round"},"encoding":{"y":{"field":"f1","type":"quantitative","scale":{"domain":[-0.055,0.2094],"nice":false,"zero":false},"axis":{"values":[0,0.05,0.1,0.15,0.2],"labelExpr":"abs(datum.value*10-round(datum.value*10))<0.001?format(datum.value,'.2f'):''","title":"β","titleX":-31,"titleY":-26}},"color":{"datum":"1","title":"Chai"}}},
     {"mark":{"type":"line","strokeWidth":1,"strokeJoin":"round"},"encoding":{"y":{"field":"f2","type":"quantitative","scale":{"domain":[-0.055,0.2094],"nice":false,"zero":false},"axis":{"values":[0,0.05,0.1,0.15,0.2],"labelExpr":"abs(datum.value*10-round(datum.value*10))<0.001?format(datum.value,'.2f'):''","title":"β","titleX":-31,"titleY":-26}},"color":{"datum":"2","title":"Chai"}}},
     {"mark":{"type":"line","strokeWidth":5.5,"strokeJoin":"round"},"encoding":{"y":{"field":"f3","type":"quantitative","scale":{"domain":[-0.055,0.2094],"nice":false,"zero":false},"axis":{"values":[0,0.05,0.1,0.15,0.2],"labelExpr":"abs(datum.value*10-round(datum.value*10))<0.001?format(datum.value,'.2f'):''","title":"β","titleX":-31,"titleY":-26}},"color":{"datum":"3","title":"Chai"}}}
    ]}
  ],"spacing":10}
 ],"spacing":9}
],"spacing":0},
{"hconcat":[
 {"width":549,"height":1,"data":{"values":[{"y":0}]},"mark":{"type":"rule","strokeWidth":1.5,"color":"#000"},"encoding":{"y":{"field":"y","type":"quantitative","axis":null,"scale":{"domain":[0,1]}}},"title":{"text":"Number of Close Friends ~ Used Numeracy","offset":9,"dx":7.5}},
 {"width":549,"height":1,"data":{"values":[{"y":0}]},"mark":{"type":"rule","strokeWidth":1.5,"color":"#000"},"encoding":{"y":{"field":"y","type":"quantitative","axis":null,"scale":{"domain":[0,1]}}},"title":{"text":"Number of Close Friends ~ Used Literacy","offset":9,"dx":-8.5}}
],"spacing":0}
],
"config":{
 "view":{"stroke":null},
 "font":"Liberation Serif",
 "axis":{"grid":false,"domainColor":"#000","domainWidth":1.5,"tickColor":"#444","tickWidth":1,"tickSize":5,"labelFont":"Liberation Serif","labelFontSize":19.5,"labelColor":"#555","labelOverlap":false,"titleFont":"Liberation Serif","titleFontWeight":"normal","titleColor":"#333","titleFontSize":18},
 "axisX":{"labelPadding":5,"titleFontSize":17,"titleColor":"#666","titlePadding":10,"labelFlush":false},
 "axisY":{"labelPadding":6,"titleAngle":0,"titleAlign":"center","titleBaseline":"middle"},
 "title":{"font":"DejaVu Serif","fontWeight":"bold","fontSize":19.6,"color":"#111","orient":"bottom","anchor":"middle","frame":"bounds","lineHeight":28},
 "legend":{"orient":"none","legendX":1127,"legendY":588,"padding":0,"titleFont":"Liberation Serif","titleFontSize":22,"titleFontWeight":"normal","titleColor":"#222","titlePadding":9,"symbolType":"stroke","symbolSize":900,"symbolStrokeWidth":2,"rowPadding":13,"labelFontSize":8,"labelOffset":0},
 "range":{"category":["#1c1c1c","#7a7a7a","#d5d5d5"]}
}
}
